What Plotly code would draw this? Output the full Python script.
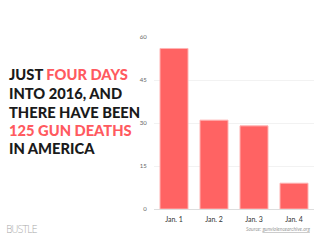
import plotly.graph_objects as go

categories = ["Jan. 1", "Jan. 2", "Jan. 3", "Jan. 4"]
deaths = [56, 31, 29, 9]
y_ticks = [0, 15, 30, 45, 60]

title_lines = [
    ("JUST ", "FOUR DAYS", ""),
    ("INTO 2016, AND", "", ""),
    ("THERE HAVE BEEN", "", ""),
    ("", "125 GUN DEATHS", ""),
    ("IN AMERICA", "", ""),
]

W, H = 320, 240
L, R, T, B = 154, 6, 37, 31
pw, ph = W - L - R, H - T - B

def px(x):
    return (x - L) / pw

def py(y):
    return (H - B - y) / ph

RED = "#ff5a5f"
BAR = "#ff6363"

fig = go.Figure()
fig.add_trace(go.Bar(
    x=categories, y=deaths,
    marker=dict(color=BAR, line=dict(color="#ffb3b3", width=1)),
))

annotations = []
line_y = [74, 93, 112, 130, 148]
for (a, red, c), yy in zip(title_lines, line_y):
    txt = a
    if red:
        txt += f"<span style='color:{RED}'>{red}</span>"
    txt += c
    annotations.append(dict(
        text=txt, x=px(7), y=py(yy), xref="paper", yref="paper",
        xanchor="left", yanchor="middle", showarrow=False,
        font=dict(family="Lato", size=14.7, color="#1a1a1a", weight=900),
    ))

annotations.append(dict(
    text="<span style='font-stretch:condensed;letter-spacing:-1.3px'>BUSTLE</span>",
    x=px(4), y=py(229), xref="paper", yref="paper",
    xanchor="left", yanchor="middle", showarrow=False,
    font=dict(family="DejaVu Sans", size=10, color="#a8a8a8", weight=300),
))
annotations.append(dict(
    text="<i>Source: <u>gunviolencearchive.org</u></i>", x=px(312), y=py(229),
    xref="paper", yref="paper", xanchor="right", yanchor="middle", showarrow=False,
    font=dict(family="Lato", size=5, color="#999999"),
))

fig.update_layout(
    width=W, height=H,
    margin=dict(l=L, r=R, t=T, b=B, pad=0),
    paper_bgcolor="white", plot_bgcolor="white",
    bargap=0.3, showlegend=False,
    annotations=annotations,
    xaxis=dict(
        showgrid=False, showline=True, linecolor="#dddddd", linewidth=1,
        tickfont=dict(family="Lato", size=7, color="#333333"),
        ticks="outside", ticklen=4, tickcolor="rgba(0,0,0,0)",
    ),
    yaxis=dict(
        range=[0, 60], tickvals=y_ticks, showgrid=True, gridcolor="#f2f2f2",
        zeroline=False, tickfont=dict(family="Lato", size=6, color="#666666"),
        ticks="outside", ticklen=5, tickcolor="rgba(0,0,0,0)",
    ),
)

fig.write_html("out.html")
